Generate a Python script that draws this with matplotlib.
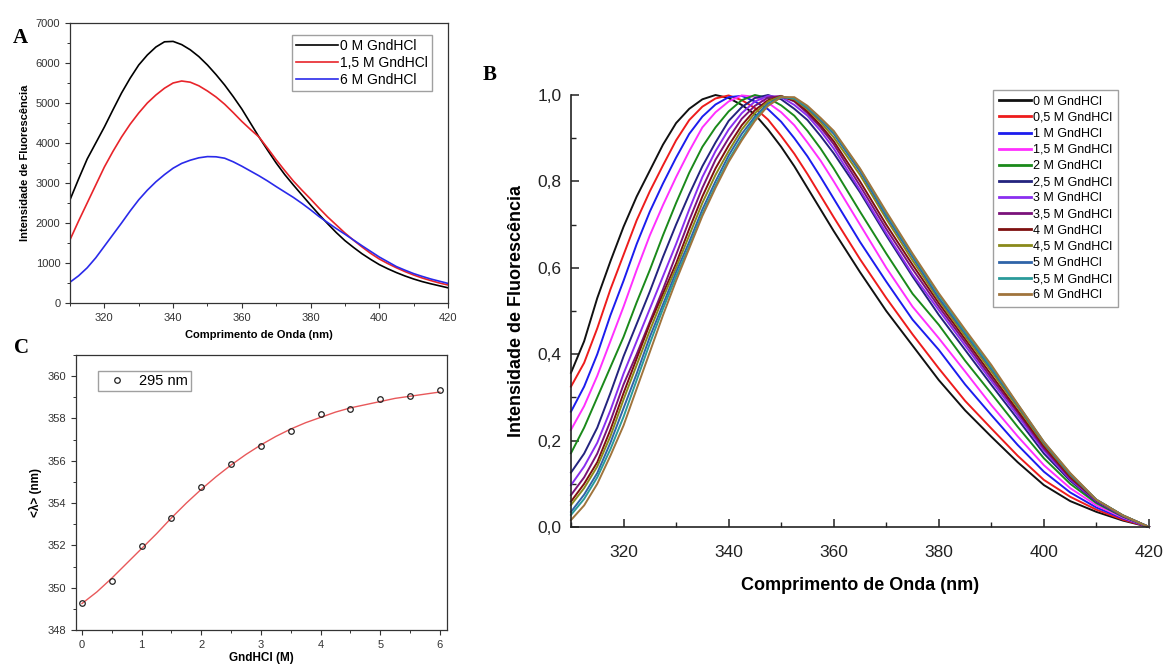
import matplotlib
matplotlib.use("Agg")
import matplotlib.pyplot as plt
from matplotlib.ticker import MultipleLocator, FuncFormatter

plt.rcParams['font.family'] = ['Liberation Sans', 'DejaVu Sans']

# ---------------- Panel A data ----------------
wl_a = [310, 312.5, 315, 317.5, 320, 322.5, 325, 327.5, 330, 332.5, 335, 337.5, 340,
        342.5, 345, 347.5, 350, 352.5, 355, 357.5, 360, 362.5, 365, 367.5, 370, 372.5,
        375, 377.5, 380, 382.5, 385, 387.5, 390, 392.5, 395, 397.5, 400, 402.5, 405,
        407.5, 410, 412.5, 415, 417.5, 420]
a_0m = [2580, 3100, 3600, 4000, 4400, 4830, 5250, 5620, 5950, 6200, 6400, 6530, 6540,
        6460, 6330, 6160, 5950, 5710, 5450, 5160, 4850, 4500, 4150, 3820, 3500, 3210,
        2950, 2700, 2450, 2210, 1980, 1760, 1560, 1390, 1230, 1090, 960, 855, 760,
        675, 600, 535, 480, 430, 380]
a_15m = [1580, 2050, 2500, 2950, 3400, 3790, 4150, 4470, 4750, 5000, 5200, 5370, 5500,
         5550, 5520, 5430, 5300, 5150, 4970, 4760, 4540, 4340, 4150, 3870, 3580, 3310,
         3050, 2820, 2600, 2370, 2150, 1950, 1750, 1570, 1400, 1240, 1100, 985, 880,
         785, 700, 625, 560, 500, 450]
a_6m = [520, 680, 880, 1130, 1420, 1710, 2000, 2300, 2580, 2820, 3030, 3210, 3370,
        3490, 3570, 3630, 3660, 3655, 3620, 3530, 3420, 3300, 3180, 3050, 2910, 2775,
        2640, 2490, 2330, 2160, 2010, 1860, 1720, 1575, 1430, 1290, 1150, 1030, 910,
        820, 735, 665, 600, 545, 490]
a_labels = ['0 M GndHCl', '1,5 M GndHCl', '6 M GndHCl']
a_colors = ['black', '#e8242a', '#2a2aea']

# ---------------- Panel B data ----------------
wl_b = [310, 312.5, 315, 317.5, 320, 322.5, 325, 327.5, 330, 332.5, 335, 337.5, 340,
        342.5, 345, 347.5, 350, 352.5, 355, 357.5, 360, 365, 370, 375, 380, 385, 390,
        395, 400, 405, 410, 415, 420]
b_00 = [.357, .43, .53, .615, .695, .765, .825, .885, .935, .968, .99, 1.0, .993,
        .977, .955, .92, .88, .835, .785, .735, .685,
        .59, .50, .42, .34, .27, .209, .15, .097, .06, .035, .015, 0]
b_05 = [.325, .38, .46, .55, .63, .71, .777, .837, .895, .942, .973, .992, .999,
        .988, .97, .943, .905, .864, .817, .767, .717,
        .62, .53, .446, .367, .292, .228, .165, .109, .07, .04, .017, 0]
b_10 = [.267, .325, .40, .49, .57, .655, .73, .795, .855, .91, .95, .978, .995,
        .998, .985, .967, .938, .90, .858, .81, .76,
        .66, .568, .48, .41, .33, .259, .19, .128, .08, .045, .02, 0]
b_15 = [.225, .28, .35, .43, .51, .595, .675, .745, .81, .87, .925, .96, .985,
        .999, .996, .982, .96, .93, .89, .848, .80,
        .70, .60, .51, .437, .36, .282, .21, .143, .09, .05, .022, 0]
b_20 = [.171, .23, .30, .37, .44, .52, .595, .675, .75, .82, .88, .925, .962,
        .988, 1.0, .993, .976, .952, .917, .876, .83,
        .73, .633, .54, .468, .385, .309, .232, .159, .10, .055, .024, 0]
b_25 = [.126, .17, .23, .31, .395, .47, .545, .625, .70, .77, .835, .89, .94,
        .972, .993, 1.0, .99, .968, .942, .905, .865,
        .775, .675, .58, .491, .41, .329, .25, .17, .107, .058, .025, 0]
b_30 = [.097, .14, .195, .27, .355, .43, .505, .58, .655, .735, .81, .87, .92,
        .958, .985, .998, .995, .977, .952, .917, .876,
        .78, .68, .585, .502, .42, .338, .258, .177, .11, .06, .026, 0]
b_35 = [.074, .115, .17, .245, .33, .40, .475, .55, .63, .71, .785, .85, .90,
        .945, .975, .994, .998, .985, .958, .925, .886,
        .79, .69, .597, .51, .428, .345, .265, .182, .113, .061, .026, 0]
b_40 = [.059, .10, .15, .225, .31, .39, .47, .54, .61, .69, .765, .83, .883,
        .93, .965, .988, .997, .987, .962, .93, .893,
        .80, .70, .607, .518, .435, .352, .27, .187, .116, .062, .027, 0]
b_45 = [.051, .09, .14, .21, .295, .375, .455, .53, .60, .675, .75, .815, .87,
        .92, .958, .985, .997, .99, .967, .937, .902,
        .815, .713, .617, .525, .442, .36, .277, .192, .12, .063, .027, 0]
b_50 = [.035, .075, .125, .195, .275, .355, .44, .515, .59, .66, .735, .80, .86,
        .91, .95, .98, .995, .992, .97, .942, .91,
        .823, .72, .625, .53, .448, .366, .282, .195, .122, .063, .027, 0]
b_55 = [.028, .065, .115, .18, .255, .34, .425, .505, .58, .65, .725, .79, .85,
        .90, .945, .977, .995, .993, .972, .945, .914,
        .828, .726, .63, .537, .452, .37, .284, .197, .124, .063, .027, 0]
b_60 = [.016, .05, .10, .165, .235, .32, .405, .49, .57, .645, .72, .785, .845,
        .895, .94, .975, .995, .995, .975, .947, .917,
        .83, .73, .633, .541, .457, .375, .285, .197, .125, .063, .027, 0]
b_series = [b_00, b_05, b_10, b_15, b_20, b_25, b_30, b_35, b_40, b_45, b_50, b_55, b_60]
b_labels = ['0 M GndHCl', '0,5 M GndHCl', '1 M GndHCl', '1,5 M GndHCl', '2 M GndHCl',
            '2,5 M GndHCl', '3 M GndHCl', '3,5 M GndHCl', '4 M GndHCl', '4,5 M GndHCl',
            '5 M GndHCl', '5,5 M GndHCl', '6 M GndHCl']
b_colors = ['#111111', '#ee1c1c', '#1c1cee', '#ff30ff', '#1a8a1a', '#23237e', '#8a2ef0',
            '#7a127a', '#7e1010', '#8a8a1a', '#2f64a8', '#2a9a9a', '#a0743c']

# ---------------- Panel C data ----------------
gnd_c = [0, 0.5, 1, 1.5, 2, 2.5, 3, 3.5, 4, 4.5, 5, 5.5, 6]
lam_c = [349.3, 350.3, 351.95, 353.3, 354.75, 355.85, 356.7, 357.4, 358.2, 358.45,
         358.9, 359.05, 359.35]
fit_x = [0, 0.25, 0.5, 0.75, 1, 1.25, 1.5, 1.75, 2, 2.25, 2.5, 2.75, 3, 3.25, 3.5,
         3.75, 4, 4.25, 4.5, 4.75, 5, 5.25, 5.5, 5.75, 6]
fit_y = [349.25, 349.8, 350.45, 351.15, 351.85, 352.55, 353.3, 354.0, 354.65, 355.25,
         355.8, 356.3, 356.75, 357.15, 357.5, 357.8, 358.05, 358.3, 358.5, 358.65,
         358.8, 358.95, 359.05, 359.15, 359.25]

W, H = 1166, 666
fig = plt.figure(figsize=(W / 100, H / 100), dpi=100)


def fr(l, t, r, b):
    return [l / W, 1 - b / H, (r - l) / W, (b - t) / H]


def style_small(ax):
    for s in ax.spines.values():
        s.set_linewidth(0.9)
        s.set_color('#333333')
    ax.tick_params(which='both', direction='out', labelsize=8, colors='#333333',
                   top=False, right=False)
    ax.tick_params(which='major', length=3.5, width=0.8)
    ax.tick_params(which='minor', length=2, width=0.7)


# ---------- A ----------
axA = fig.add_axes(fr(70, 23, 448, 303))
for ys, lab, col in zip([a_0m, a_15m, a_6m], a_labels, a_colors):
    axA.plot(wl_a, ys, color=col, lw=1.2, label=lab)
axA.set_xlim(310, 420)
axA.set_ylim(0, 7000)
axA.xaxis.set_major_locator(MultipleLocator(20))
axA.xaxis.set_minor_locator(MultipleLocator(10))
axA.yaxis.set_major_locator(MultipleLocator(1000))
axA.yaxis.set_minor_locator(MultipleLocator(500))
style_small(axA)
axA.set_xlabel('Comprimento de Onda (nm)', fontsize=8, fontweight='bold', labelpad=5)
axA.set_ylabel('Intensidade de Fluorescência', fontsize=8, fontweight='bold', labelpad=4)
legA = axA.legend(loc='upper right', bbox_to_anchor=(432 / W, 1 - 35 / H),
                  bbox_transform=fig.transFigure, borderaxespad=0, fontsize=10,
                  handlelength=3.0, handletextpad=0.15, labelspacing=0.2,
                  fancybox=False, edgecolor='#888888', borderpad=0.3)
legA.get_frame().set_linewidth(1.0)

# ---------- C ----------
axC = fig.add_axes(fr(76, 355, 447, 630))
axC.plot(fit_x, fit_y, color='#e8585a', lw=1.0)
axC.plot(gnd_c, lam_c, 'o', mfc='none', mec='#222222', mew=0.9, ms=4, label='295 nm')
axC.set_xlim(-0.1, 6.12)
axC.set_ylim(348, 361)
axC.xaxis.set_major_locator(MultipleLocator(1))
axC.xaxis.set_minor_locator(MultipleLocator(0.5))
axC.yaxis.set_major_locator(MultipleLocator(2))
axC.yaxis.set_minor_locator(MultipleLocator(1))
style_small(axC)
axC.set_xlabel('GndHCl (M)', fontsize=8.5, fontweight='bold', labelpad=2)
axC.set_ylabel('<λ> (nm)', fontsize=8.5, fontweight='bold', labelpad=4)
legC = axC.legend(loc='upper left', bbox_to_anchor=(98 / W, 1 - 371 / H),
                  bbox_transform=fig.transFigure, borderaxespad=0, fontsize=10.5,
                  handlelength=2.2, handletextpad=0.4, fancybox=False,
                  edgecolor='#888888', borderpad=0.2, markerscale=1.0)
legC.get_frame().set_linewidth(1.0)

# ---------- B ----------
axB = fig.add_axes(fr(571, 95, 1149, 527))
for ys, lab, col in zip(b_series, b_labels, b_colors):
    axB.plot(wl_b, ys, color=col, lw=1.4, label=lab, clip_on=False)
axB.set_xlim(310, 420)
axB.set_ylim(0, 1.0)
axB.spines['top'].set_visible(False)
axB.spines['right'].set_visible(False)
for s in ['left', 'bottom']:
    axB.spines[s].set_linewidth(1.2)
    axB.spines[s].set_color('#222222')
axB.xaxis.set_major_locator(MultipleLocator(20))
axB.xaxis.set_minor_locator(MultipleLocator(10))
axB.yaxis.set_major_locator(MultipleLocator(0.2))
axB.yaxis.set_minor_locator(MultipleLocator(0.1))
axB.yaxis.set_major_formatter(FuncFormatter(lambda v, p: f'{v:.1f}'.replace('.', ',')))
axB.tick_params(which='both', direction='in', labelsize=12.5, colors='#222222',
                top=False, right=False)
axB.tick_params(which='major', length=6, width=1.1)
axB.tick_params(which='minor', length=3.5, width=1.0)
axB.tick_params(axis='y', which='major', pad=7)
axB.tick_params(axis='x', which='major', pad=13)
axB.set_xlabel('Comprimento de Onda (nm)', fontsize=13, fontweight='bold', labelpad=12)
axB.set_ylabel('Intensidade de Fluorescência', fontsize=13, fontweight='bold', labelpad=9)
legB = axB.legend(loc='upper left', bbox_to_anchor=(993 / W, 1 - 90 / H),
                  bbox_transform=fig.transFigure, borderaxespad=0, fontsize=9,
                  handlelength=2.6, handletextpad=0.15, labelspacing=0.33,
                  fancybox=False, edgecolor='#888888', borderpad=0.45)
legB.get_frame().set_linewidth(1.0)
for lh in legB.get_lines():
    lh.set_linewidth(2.0)

# ---------- panel letters ----------
for txt, x, y in [('A', 20, 38), ('B', 490, 75), ('C', 21, 348)]:
    fig.text(x / W, 1 - y / H, txt, fontsize=15, fontweight='bold',
             family='Liberation Serif', ha='center', va='center')

fig.savefig('out.png', dpi=100)
